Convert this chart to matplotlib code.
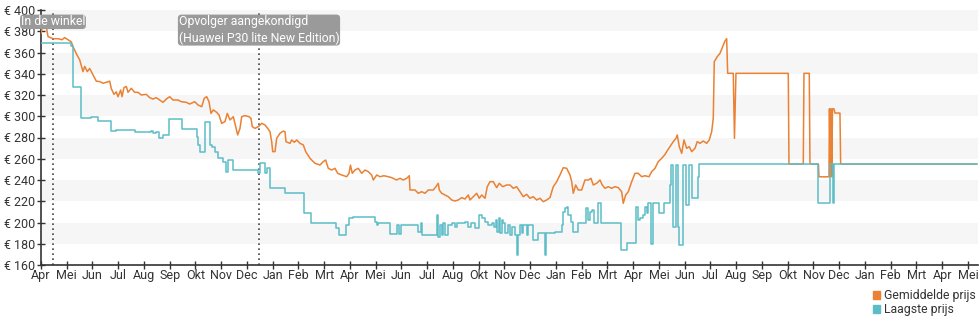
import matplotlib
matplotlib.use("Agg")
import matplotlib.pyplot as plt
from matplotlib.patches import Patch

plt.rcParams['font.family'] = ['Roboto', 'DejaVu Sans']

month_labels = ["Apr", "Mei", "Jun", "Jul", "Aug", "Sep", "Okt", "Nov", "Dec",
                "Jan", "Feb", "Mrt", "Apr", "Mei", "Jun", "Jul", "Aug", "Okt",
                "Nov", "Dec", "Jan", "Feb", "Mrt", "Apr", "Mei", "Jun", "Jul",
                "Aug", "Sep", "Okt", "Nov", "Dec", "Jan", "Feb", "Mrt", "Apr", "Mei"]

# x = months since the first tick
avg_month = [0.00, 0.058, 0.206, 0.272, 0.466, 0.660, 0.816, 0.920, 1.049, 1.177,
             1.243, 1.371, 1.503, 1.631, 1.697, 1.798, 1.891, 2.019, 2.148, 2.291,
             2.408, 2.536, 2.668, 2.730, 2.835, 2.924, 2.990, 3.095, 3.146, 3.223,
             3.313, 3.379, 3.507, 3.639, 3.767, 3.895, 4.089, 4.221, 4.350, 4.478,
             4.610, 4.738, 4.866, 4.998, 5.126, 5.320, 5.448, 5.643, 5.775, 5.969,
             6.097, 6.241, 6.342, 6.435, 6.524, 6.602, 6.691, 6.823, 6.913, 7.017,
             7.146, 7.235, 7.340, 7.468, 7.561, 7.639, 7.728, 7.794, 7.922, 8.078,
             8.155, 8.206, 8.311, 8.439, 8.571, 8.699, 8.804, 8.893, 8.959, 8.998,
             9.087, 9.153, 9.282, 9.410, 9.476, 9.515, 9.670, 9.736, 9.837, 9.930,
             10.058, 10.186, 10.280, 10.447, 10.641, 10.835, 10.963, 11.056, 11.157, 11.289,
             11.417, 11.522, 11.678, 11.872, 11.961, 12.019, 12.089, 12.194, 12.322, 12.454,
             12.583, 12.711, 12.843, 12.905, 13.037, 13.165, 13.320, 13.487, 13.619, 13.814,
             13.942, 14.070, 14.202, 14.303, 14.330, 14.524, 14.652, 14.784, 14.913, 15.041,
             15.235, 15.340, 15.429, 15.468, 15.561, 15.689, 15.817, 15.950, 16.078, 16.206,
             16.338, 16.466, 16.594, 16.660, 16.788, 16.920, 17.021, 17.115, 17.243, 17.332,
             17.437, 17.565, 17.697, 17.798, 17.930, 18.085, 18.214, 18.342, 18.474, 18.602,
             18.730, 18.862, 18.990, 19.118, 19.250, 19.379, 19.507, 19.639, 19.767, 19.895,
             20.027, 20.155, 20.283, 20.416, 20.544, 20.610, 20.672, 20.765, 20.866, 20.998,
             21.126, 21.254, 21.359, 21.448, 21.581, 21.709, 21.798, 21.903, 22.031, 22.163,
             22.291, 22.419, 22.551, 22.613, 22.707, 22.808, 22.940, 23.068, 23.196, 23.328,
             23.456, 23.612, 23.716, 23.845, 23.973, 24.105, 24.233, 24.299, 24.427, 24.555,
             24.660, 24.711, 24.788, 24.882, 24.971, 25.076, 25.177, 25.270, 25.398, 25.487,
             25.592, 25.720, 25.852, 25.953, 26.047, 26.109, 26.148, 26.264, 26.369, 26.474,
             26.563, 26.629, 26.668, 26.885, 26.932, 26.990, 29.021, 29.049, 29.604, 29.631,
             29.837, 29.864, 30.194, 30.214, 30.602, 30.621, 30.652, 30.680, 30.711, 30.738,
             30.796, 30.835, 31.029, 31.056, 36.338]
avg_price = [378, 384, 384, 375, 373, 373, 372, 374, 372, 370,
             365.5, 359, 353, 342, 347, 342, 345, 339, 333, 332.6,
             331, 332, 333, 326, 320.6, 323, 318.4, 324.7, 318.4, 327,
             328, 322.5, 326.3, 322.5, 322.5, 320, 320.6, 317.5, 316.2, 317.5,
             315.3, 313.1, 316.2, 318.4, 315.3, 315.3, 313.7, 313.1, 311.5, 313.7,
             310.6, 309, 317, 318.4, 313.7, 302.7, 306, 303.7, 301.2, 293.3,
             295, 302.7, 296.5, 299.6, 290.2, 282.4, 288.6, 299.6, 300.6, 299.6,
             298, 290.2, 288.6, 290.2, 293.3, 291.8, 288.6, 285.5, 276, 266.7,
             266.7, 279.2, 284, 286, 285.5, 276, 274.5, 277.7, 275.5, 277.7,
             274.5, 273, 266.7, 260.4, 255.7, 254.1, 257.3, 258.8, 251, 249.4,
             251, 246.3, 244.7, 243.1, 246.3, 254, 246.3, 249.4, 251, 246.3,
             249.4, 247.8, 244.7, 240, 244.7, 243.1, 244, 243.1, 242.2, 240,
             241.6, 240, 241.6, 244, 230.6, 230.6, 227.5, 229, 227.5, 230.6,
             230.6, 233.7, 236.9, 230.6, 227.5, 225.9, 224.3, 221.2, 220.2, 221.2,
             223.4, 222.1, 225.9, 221.2, 224.3, 227.5, 222.8, 225.9, 222.8, 233.7,
             238.4, 238.4, 232.8, 236.9, 233.7, 235.3, 235.3, 232.2, 233.7, 229,
             224.3, 226.5, 222.8, 224.3, 221.2, 222.8, 219.6, 221.2, 223.4, 233.7,
             238.4, 244.7, 251.6, 251, 244.7, 238.4, 227.5, 235.3, 230.6, 230.6,
             240, 240, 241.6, 235.3, 236.9, 240, 235.3, 232.2, 233.7, 232.2,
             233.7, 232.8, 229, 218, 225.9, 229, 238.4, 246.3, 246.3, 243.1,
             244, 243.1, 247.8, 251, 257.3, 260.4, 264, 266.7, 271.4, 276.1,
             279.2, 282.4, 271.4, 265.1, 277.7, 269.8, 271.4, 266.7, 269.8, 276.1,
             274.5, 276.7, 274.5, 277.7, 285.5, 298, 351.4, 356.1, 359.2, 365.5,
             370.8, 373, 340.4, 340.4, 279.2, 340.4, 340.4, 255, 255, 340.4,
             340.4, 255, 255, 243, 243, 307, 243, 307, 243, 307,
             307, 303, 303, 255, 255]

# lowest price, stepwise: each value holds until the next month position
low_month = [0.00, 1.177, 1.243, 1.565, 1.953, 2.214, 2.707, 2.924, 3.639, 4.283,
             4.350, 4.466, 4.571, 4.738, 4.959, 5.476, 6.047, 6.109, 6.175, 6.381,
             6.544, 6.629, 6.757, 6.885, 7.080, 7.173, 7.262, 7.456, 8.439, 8.524,
             8.718, 8.796, 8.893, 9.495, 10.214, 10.485, 11.476, 11.573, 11.845, 11.961,
             12.117, 12.971, 13.037, 13.099, 13.573, 13.845, 13.922, 14.000, 14.641, 14.757,
             14.784, 15.398, 15.437, 15.495, 15.561, 15.623, 15.689, 15.817, 15.950, 16.078,
             16.144, 16.466, 16.594, 16.687, 16.854, 17.010, 17.115, 17.243, 17.371, 17.503,
             17.592, 17.670, 17.720, 17.775, 17.825, 17.891, 17.953, 18.019, 18.124, 18.214,
             18.280, 18.408, 18.474, 18.536, 18.602, 18.668, 18.730, 18.862, 18.924, 19.118,
             19.289, 19.573, 19.612, 19.961, 20.221, 20.283, 20.350, 20.416, 20.478, 20.583,
             20.672, 20.843, 21.153, 21.231, 21.320, 21.410, 21.487, 21.619, 21.748, 22.524,
             22.746, 23.095, 23.196, 23.262, 23.390, 23.456, 23.522, 23.584, 23.677, 23.779,
             24.000, 24.194, 24.427, 24.466, 24.555, 24.660, 24.750, 24.788, 24.944, 25.049,
             25.177, 25.270, 25.526, 25.565, 30.194, 30.660, 30.745, 30.808, 36.338]
low_price = [369, 366, 328, 298.7, 299.6, 295.5, 286.1, 287.1, 285.5, 286.5,
             283.9, 285.5, 279.8, 282.4, 297.4, 288, 280.8, 272.9, 266.7, 294.9,
             272.9, 271.4, 266.7, 260.4, 257.3, 247.8, 258.8, 249.4, 246.3, 255.7,
             246.3, 251.6, 232.2, 227.5, 208.6, 199.2, 194.5, 188.2, 197.7, 203.9,
             205.5, 200.8, 197.7, 199.2, 188.9, 197.7, 188.9, 197.7, 191.4, 199.2,
             188.2, 207, 186.7, 197.7, 188.2, 199.2, 188.2, 197.7, 199.2, 196.1,
             199.2, 200.8, 196.1, 199.2, 194.5, 207, 203.9, 200.8, 197.7, 199.2,
             196.1, 202.4, 191.4, 203.9, 189.8, 202.4, 199.2, 189.8, 197.7, 188.2,
             196.1, 188.2, 169.4, 188.2, 197.7, 189.8, 197.7, 188.2, 197.7, 183.5,
             189.8, 169.4, 189.8, 191.4, 197.7, 210.2, 213.3, 214.9, 207, 200.8,
             191.4, 199.2, 213.3, 202.4, 210.2, 211.8, 199.2, 218, 199.2, 174.1,
             180.4, 214.9, 202.4, 203.9, 207, 214.9, 208.6, 218, 179.5, 218,
             208.6, 218, 235.3, 254.1, 196.1, 254.1, 196.1, 178.8, 254.1, 216.5,
             254.1, 222.8, 243.1, 255, 218, 255, 218, 255, 255]

event_month = [0.466, 8.466]
event_text = ["In de winkel", "Opvolger aangekondigd\n(Huawei P30 lite New Edition)"]

orange = "#ea8133"
teal = "#5cbdc8"

fig = plt.figure(figsize=(9.8, 3.25), dpi=100)
ax = fig.add_axes([41 / 980, 60 / 325, 937 / 980, 255 / 325])

# alternating grey bands
for lo in range(180, 400, 40):
    ax.axhspan(lo, lo + 20, color="#f6f6f6", lw=0, zorder=0)

ax.plot(avg_month, avg_price, color=orange, lw=1.1, zorder=3)
ax.step(low_month, low_price, where="post", color=teal, lw=1.1, zorder=4)

for m, txt in zip(event_month, event_text):
    ax.axvline(m, color="#444444", ls=(0, (1, 2)), lw=1.2, zorder=2)
    ax.text(m, 395, txt, ha="center", va="top", multialignment="left",
            color="white", fontsize=8.8, linespacing=1.3, zorder=6,
            bbox=dict(boxstyle="round,pad=0.06,rounding_size=0.3",
                      fc="#9a9a9a", ec="none"))

ax.set_xlim(0, 36.39)
ax.set_ylim(160, 400)
ax.set_xticks(range(len(month_labels)))
ax.set_xticklabels(month_labels)
yt = list(range(160, 401, 20))
ax.set_yticks(yt)
ax.set_yticklabels([f"€ {v}" for v in yt])
ax.tick_params(axis="both", direction="inout", length=6, width=1,
               color="#333333", labelcolor="#333333", labelsize=9)
ax.tick_params(axis="x", pad=0)
ax.tick_params(axis="y", pad=1)

for s in ["top", "right"]:
    ax.spines[s].set_visible(False)
for s in ["left", "bottom"]:
    ax.spines[s].set_color("#333333")
    ax.spines[s].set_linewidth(1.2)

fig.legend(handles=[Patch(color=orange, label="Gemiddelde prijs"),
                    Patch(color=teal, label="Laagste prijs")],
           loc="upper left", bbox_to_anchor=(873 / 980, 1 - 289 / 325),
           frameon=False, handlelength=0.6, handleheight=0.6,
           handletextpad=0.3, labelspacing=0.1, fontsize=8.8,
           borderaxespad=0, borderpad=0, labelcolor="#333333")

fig.savefig("out.png", dpi=100)
